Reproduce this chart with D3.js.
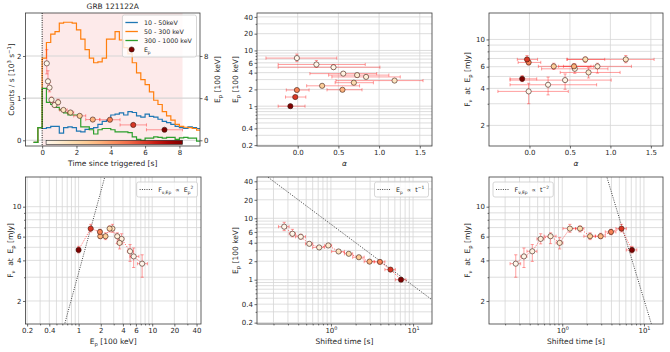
<!DOCTYPE html>
<html>
<head>
<meta charset="utf-8">
<script src="https://cdn.jsdelivr.net/npm/d3@7"></script>
<style>
  body { margin: 0; background: #fff; }
  svg { font-family: "DejaVu Sans", sans-serif; }
</style>
</head>
<body>
<svg id="fig" width="670" height="352"></svg>
<script>
// spectral slices, time since trigger [s]
var binStart = [0.23, 0.31, 0.37, 0.49, 0.60, 0.84, 1.02, 1.46, 1.84, 2.54, 3.36, 4.54, 6.08];
var binStop  = [0.31, 0.37, 0.49, 0.60, 0.84, 1.02, 1.46, 1.84, 2.54, 3.36, 4.54, 6.08, 8.18];
var binMid   = [0.27, 0.34, 0.43, 0.545, 0.72, 0.93, 1.24, 1.65, 2.19, 2.95, 3.95, 5.31, 7.13];
// peak energy [100 keV]
var ep   = [7.3, 5.6, 5.0, 3.84, 3.35, 3.61, 2.88, 2.64, 2.32, 1.97, 1.95, 1.46, 1.0];
var epLo = [6.3, 5.0, 4.6, 3.6, 3.15, 3.35, 2.75, 2.52, 2.2, 1.88, 1.86, 1.38, 0.95];
var epHi = [8.6, 6.6, 5.5, 4.1, 3.6, 3.9, 3.02, 2.77, 2.45, 2.06, 2.04, 1.55, 1.05];
// low energy index
var alpha   = [-0.01, 0.23, 0.44, 0.56, 0.84, 0.73, 1.19, 0.69, 0.30, 0.55, -0.01, -0.03, -0.09];
var alphaLo = [-0.39, -0.24, -0.24, 0.15, 0.42, 0.38, 0.47, 0.46, 0.11, 0.36, -0.14, -0.15, -0.24];
var alphaHi = [0.48, 0.83, 1.01, 0.97, 1.26, 1.12, 1.54, 0.93, 0.76, 0.79, 0.14, 0.10, 0.09];
// F_nu at Ep [mJy]
var fnu   = [3.78, 4.28, 4.67, 5.77, 6.04, 5.39, 6.88, 6.88, 6.04, 6.04, 6.5, 6.88, 4.78];
var fnuLo = [3.0, 3.54, 3.93, 5.3, 5.32, 4.86, 6.46, 6.5, 5.7, 5.8, 6.2, 6.5, 4.54];
var fnuHi = [4.4, 4.94, 5.24, 6.3, 6.4, 5.9, 7.4, 7.2, 6.4, 6.35, 6.8, 7.4, 5.08];

// light curves [10^3 counts/s], bins of 0.25 s
var lcTime = [-0.5, -0.25, 0, 0.25, 0.5, 0.75, 1, 1.25, 1.5, 1.75, 2, 2.25, 2.5, 2.75, 3, 3.25, 3.5, 3.75, 4, 4.25,
              4.5, 4.75, 5, 5.25, 5.5, 5.75, 6, 6.25, 6.5, 6.75, 7, 7.25, 7.5, 7.75, 8, 8.25, 8.5, 8.75, 9, 9.25];
var lcLow  = [-0.05, 0.3, 0.28, 0.3, 0.33, 0.33, 0.17, 0.3, 0.32, 0.3, 0.22, 0.2, 0.26, 0.28, 0.3, 0.38, 0.45, 0.48, 0.6, 0.62,
              0.65, 0.6, 0.68, 0.66, 0.58, 0.55, 0.62, 0.57, 0.55, 0.5, 0.45, 0.42, 0.38, 0.33, 0.3, 0.28, 0.32, 0.3, 0.28, 0.27];
var lcMid  = [-0.05, 0.3, 1.95, 2.32, 2.52, 2.58, 2.78, 2.8, 2.8, 2.78, 2.62, 2.4, 2.15, 1.95, 1.84, 1.86, 1.95, 2.4, 2.4, 2.58,
              2.38, 2.2, 2.05, 1.84, 1.6, 1.44, 1.32, 1.15, 0.95, 0.85, 0.68, 0.58, 0.48, 0.38, 0.33, 0.31, 0.3, 0.28, 0.24, 0.2];
var lcHigh = [-0.05, 0.3, 1.23, 0.9, 0.85, 0.78, 0.72, 0.65, 0.6, 0.6, 0.6, 0.32, 0.32, 0.25, 0.15, 0.25, 0.28, 0.28, 0.25, 0.2,
              0.2, 0.2, 0.18, 0.08, 0.02, 0.0, 0.05, 0.05, 0.08, 0.07, 0.05, 0.07, 0.07, 0.02, 0.06, 0.07, 0.05, 0.05, -0.02, -0.02];
var lcBin = 0.25;
var lcNames = ["10 - 50keV", "50 - 300 keV", "300 - 1000 keV"];
var lcColors = ["#1f77b4", "#ff7f0e", "#2ca02c"];

// tick labels
var ticksTime = [0, 2, 4, 6, 8];
var ticksCounts = [0, 1, 2];
var ticksEpLin = [0, 4, 8];
var ticksAlpha = [0, 0.5, 1, 1.5];
var ticksEp = [0.2, 0.4, 1, 2, 4, 6, 10, 20, 40];
var ticksF = [2, 4, 6, 10];
var ticksShift = [1, 10];

// power-law guides
var guideEpPivot = 1.46, guideEpNorm = 6.88;   // F ~ Ep^2
var guideT1Norm = 8.0;                         // Ep ~ t^-1
var guideT2Norm = 205;                         // F ~ t^-2

var svg = d3.select("#fig");
var defs = svg.append("defs");
var ink = "#262626", gridCol = "#d5d5d5", errCol = "#ff2a2a";
var fsTick = 7, fsLab = 7.5, fsLeg = 6.3;
var n = binMid.length, idx = d3.range(n);
var tNorm = d3.scaleLinear().domain([binMid[0], binMid[n - 1]]).range([0, 1]);
function col(i) { return d3.interpolateOrRd(tNorm(binMid[i])); }

function panel(name, x, y, w, h) {
  var g = svg.append("g").attr("transform", "translate(" + x + "," + y + ")");
  defs.append("clipPath").attr("id", "clip-" + name)
    .append("rect").attr("width", w).attr("height", h);
  var body = g.append("g").attr("clip-path", "url(#clip-" + name + ")");
  return {g: g, body: body, w: w, h: h};
}

// text with sub/superscripts, parts = ["txt", ["p","sub"], ...]
function rich(t, parts, fs) {
  var cur = 0;
  parts.forEach(function(q) {
    var s = typeof q === "string" ? q : q[0];
    var m = typeof q === "string" ? "" : q[1];
    var off = m === "sub" ? 0.3 * fs : m === "sup" ? -0.4 * fs : 0;
    var ts = t.append("tspan").text(s);
    if (m) ts.style("font-size", (fs * 0.7) + "px");
    if (off !== cur) ts.attr("dy", off - cur);
    cur = off;
  });
}

function styleAxis(a) {
  a.attr("font-size", null).attr("font-family", null);
  a.selectAll(".domain").remove();
  a.selectAll(".tick line").attr("stroke", ink).attr("stroke-width", 0.7);
  a.selectAll(".tick text").attr("fill", ink).style("font-size", fsTick + "px");
}

function axis(p, side, s, major, fmt, minor) {
  var mk = function() { return side === "bottom" ? d3.axisBottom(s) : side === "left" ? d3.axisLeft(s) : d3.axisRight(s); };
  var a = p.g.append("g");
  if (side === "bottom") a.attr("transform", "translate(0," + p.h + ")");
  if (side === "right") a.attr("transform", "translate(" + p.w + ",0)");
  a.call(mk().tickValues(major).tickFormat(fmt).tickSizeInner(2.5).tickSizeOuter(0).tickPadding(1.5));
  styleAxis(a);
  if (minor) {
    var mv = minor.filter(function(v) { return !major.some(function(M) { return Math.abs(M - v) < 1e-6 * v; }); });
    var m = a.append("g").call(mk().tickValues(mv).tickFormat("").tickSizeInner(1.4).tickSizeOuter(0));
    styleAxis(m);
  }
  return a;
}

// labels like 10^0, 10^1 on the major ticks only
function powerTicks(a) {
  a.selectAll(".tick text").each(function(d) {
    if (!ticksShift.some(function(M) { return Math.abs(M - d) < 1e-6 * d; })) return;
    if (d3.select(this).text() === "") return;
    var t = d3.select(this).text(null);
    rich(t, ["10", [String(Math.round(Math.log10(d))), "sup"]], fsTick);
  });
}

function grid(p, xs, xv, ys, yv, sw) {
  var gg = p.body.append("g").attr("stroke", gridCol).attr("stroke-width", sw || 0.8);
  gg.selectAll(null).data(xv).enter().append("line")
    .attr("x1", function(d) { return xs(d); }).attr("x2", function(d) { return xs(d); })
    .attr("y1", 0).attr("y2", p.h);
  gg.selectAll(null).data(yv).enter().append("line")
    .attr("y1", function(d) { return ys(d); }).attr("y2", function(d) { return ys(d); })
    .attr("x1", 0).attr("x2", p.w);
}

function frame(p) {
  p.g.append("rect").attr("width", p.w).attr("height", p.h)
    .attr("fill", "none").attr("stroke", "#3a3a3a").attr("stroke-width", 0.8);
}

function xLabel(p, parts) {
  var t = p.g.append("text").attr("x", p.w / 2).attr("y", p.h + 20)
    .attr("text-anchor", "middle").attr("xml:space", "preserve")
    .style("font-size", fsLab + "px").attr("fill", ink);
  rich(t, parts, fsLab);
  return t;
}

function yLabel(p, parts, dx) {
  var t = p.g.append("text")
    .attr("transform", "translate(" + dx + "," + (p.h / 2) + ") rotate(-90)")
    .attr("text-anchor", "middle").attr("dy", "0.35em").attr("xml:space", "preserve")
    .style("font-size", fsLab + "px").attr("fill", ink);
  rich(t, parts, fsLab);
}

function points(p, xs, ys, xv, xl, xh, yv, yl, yh, connect) {
  var cap = 1.6;
  var eb = p.body.append("g").attr("stroke", errCol).attr("stroke-opacity", 0.5).attr("stroke-width", 0.9);
  idx.forEach(function(i) {
    var x = xs(xv[i]), y = ys(yv[i]);
    var x1 = xs(xl[i]), x2 = xs(xh[i]), y1 = ys(yl[i]), y2 = ys(yh[i]);
    eb.append("line").attr("x1", x1).attr("x2", x2).attr("y1", y).attr("y2", y);
    eb.append("line").attr("x1", x1).attr("x2", x1).attr("y1", y - cap).attr("y2", y + cap);
    eb.append("line").attr("x1", x2).attr("x2", x2).attr("y1", y - cap).attr("y2", y + cap);
    eb.append("line").attr("x1", x).attr("x2", x).attr("y1", y1).attr("y2", y2);
    eb.append("line").attr("x1", x - cap).attr("x2", x + cap).attr("y1", y1).attr("y2", y1);
    eb.append("line").attr("x1", x - cap).attr("x2", x + cap).attr("y1", y2).attr("y2", y2);
  });
  if (connect) {
    p.body.append("path").datum(idx)
      .attr("d", d3.line().x(function(i) { return xs(xv[i]); }).y(function(i) { return ys(yv[i]); }))
      .attr("fill", "none").attr("stroke", errCol).attr("stroke-opacity", 0.75)
      .attr("stroke-width", 0.9).attr("stroke-dasharray", "1.2,1.3");
  }
  p.body.append("g").selectAll("circle").data(idx).enter().append("circle")
    .attr("cx", function(i) { return xs(xv[i]); })
    .attr("cy", function(i) { return ys(yv[i]); })
    .attr("r", 2.6).attr("fill", col)
    .attr("stroke", "#3b1d12").attr("stroke-width", 0.6);
}

function guide(p, xs, ys, f) {
  var d = xs.domain();
  p.body.append("path")
    .attr("d", d3.line()([[xs(d[0]), ys(f(d[0]))], [xs(d[1]), ys(f(d[1]))]]))
    .attr("fill", "none").attr("stroke", "#333").attr("stroke-width", 0.9)
    .attr("stroke-dasharray", "1,1.3");
}

function legend(p, items, side, top) {
  var lg = p.g.append("g");
  var rowH = 9, pad = 3, sample = 12.5, gap = 6;
  var body = lg.append("g");
  items.forEach(function(it, k) {
    var yy = pad + rowH / 2 + k * rowH;
    if (it.kind === "dot") {
      body.append("circle").attr("cx", pad + sample / 2).attr("cy", yy).attr("r", 2.6)
        .attr("fill", it.color).attr("stroke", "#3b1d12").attr("stroke-width", 0.6);
    } else {
      body.append("line").attr("x1", pad).attr("x2", pad + sample).attr("y1", yy).attr("y2", yy)
        .attr("stroke", it.color).attr("stroke-width", it.dash ? 0.9 : 1.3)
        .attr("stroke-dasharray", it.dash || null);
    }
    var t = body.append("text").attr("x", pad + sample + gap).attr("y", yy).attr("dy", "0.35em")
      .attr("xml:space", "preserve").style("font-size", fsLeg + "px").attr("fill", ink);
    rich(t, it.parts, fsLeg);
  });
  var bb = body.node().getBBox();
  var W = bb.x + bb.width + pad + 1, H = 2 * pad + items.length * rowH;
  lg.insert("rect", ":first-child").attr("width", W).attr("height", H).attr("rx", 2)
    .attr("fill", "#fff").attr("fill-opacity", 0.8).attr("stroke", "#cccccc").attr("stroke-width", 0.8);
  var x0 = side === "right" ? p.w - 3.5 - W : 4;
  lg.attr("transform", "translate(" + x0 + "," + top + ")");
}

var labEp = ["E", ["p", "sub"], " [100 keV]"];
var labF = ["F", ["\u03bd", "sub"], "  at  E", ["p", "sub"], " [mJy]"];
var labShift = ["Shifted time [s]"];

// ---------- light curve ----------
var lc = panel("lc", 25.5, 13, 174.5, 133);
var lcX = d3.scaleLinear().domain([-0.97, 9.2]).range([0, lc.w]);
var lcY = d3.scaleLinear().domain([-0.135, 3.02]).range([lc.h, 0]);
var lcY2 = d3.scaleLinear().domain([-0.54, 12.08]).range([lc.h, 0]);

lc.body.append("rect").attr("x", lcX(0)).attr("width", lcX(binStop[n - 1]) - lcX(0))
  .attr("y", 0).attr("height", lc.h).attr("fill", "#fdeaea");
grid(lc, lcX, [], lcY, ticksCounts, 1.1);

var lcLine = d3.line().curve(d3.curveStepAfter)
  .x(function(d) { return lcX(d[0]); }).y(function(d) { return lcY(d[1]); });
[lcLow, lcMid, lcHigh].forEach(function(series, k) {
  var pts = lcTime.map(function(t, i) { return [t, series[i]]; });
  pts.push([lcTime[lcTime.length - 1] + lcBin, series[series.length - 1]]);
  lc.body.append("path").datum(pts).attr("d", lcLine)
    .attr("fill", "none").attr("stroke", lcColors[k]).attr("stroke-width", 1.2);
});
lc.body.append("line").attr("x1", lcX(0)).attr("x2", lcX(0)).attr("y1", 0).attr("y2", lc.h)
  .attr("stroke", "#111").attr("stroke-width", 1).attr("stroke-dasharray", "1,1.3");

var grad = defs.append("linearGradient").attr("id", "orrd");
d3.range(0, 1.0001, 0.1).forEach(function(s) {
  grad.append("stop").attr("offset", s).attr("stop-color", d3.interpolateOrRd(s));
});
lc.body.append("rect").attr("x", lcX(binStart[0])).attr("width", lcX(binStop[n - 1]) - lcX(binStart[0]))
  .attr("y", lcY(0)).attr("height", 4).attr("fill", "url(#orrd)")
  .attr("stroke", "#222").attr("stroke-width", 0.6);

points(lc, lcX, lcY2, binMid, binStart, binStop, ep, epLo, epHi, false);

axis(lc, "bottom", lcX, ticksTime, d3.format("d"));
axis(lc, "left", lcY, ticksCounts, d3.format("d"));
axis(lc, "right", lcY2, ticksEpLin, d3.format("d"));
frame(lc);
xLabel(lc, ["Time since triggered [s]"]);
yLabel(lc, ["Counts / s [10", ["3", "sup"], " s", ["\u22121", "sup"], "]"], -14.5);
yLabel(lc, labEp, lc.w + 17);
lc.g.append("text").attr("x", lc.w / 2).attr("y", -4.5).attr("text-anchor", "middle")
  .style("font-size", fsLab + "px").attr("fill", ink).text("GRB 121122A");
legend(lc, [
  {kind: "line", color: lcColors[0], parts: [lcNames[0]]},
  {kind: "line", color: lcColors[1], parts: [lcNames[1]]},
  {kind: "line", color: lcColors[2], parts: [lcNames[2]]},
  {kind: "dot", color: col(n - 1), parts: ["E", ["p", "sub"]]}
], "right", 2);

// ---------- Ep vs alpha ----------
var pA = panel("aep", 257, 13, 175, 133);
var aX = d3.scaleLinear().domain([-0.5, 1.65]).range([0, pA.w]);
var aY = d3.scaleLog().domain([0.193, 47]).range([pA.h, 0]);
grid(pA, aX, ticksAlpha, aY, aY.ticks());
points(pA, aX, aY, alpha, alphaLo, alphaHi, ep, epLo, epHi, false);
axis(pA, "bottom", aX, ticksAlpha, d3.format(".1f"));
axis(pA, "left", aY, ticksEp, d3.format("~g"), aY.ticks());
frame(pA);
xLabel(pA, ["\u03b1"]).style("font-style", "italic");
yLabel(pA, labEp, -22);

// ---------- F vs alpha ----------
var pB = panel("af", 489, 13, 174, 133);
var bX = d3.scaleLinear().domain([-0.5, 1.65]).range([0, pB.w]);
var bY = d3.scaleLog().domain([1.36, 16.4]).range([pB.h, 0]);
grid(pB, bX, ticksAlpha, bY, bY.ticks());
points(pB, bX, bY, alpha, alphaLo, alphaHi, fnu, fnuLo, fnuHi, false);
axis(pB, "bottom", bX, ticksAlpha, d3.format(".1f"));
axis(pB, "left", bY, ticksF, d3.format("~g"), bY.ticks());
frame(pB);
xLabel(pB, ["\u03b1"]).style("font-style", "italic");
yLabel(pB, labF, -22);

// ---------- F vs Ep ----------
var pC = panel("epf", 25.5, 177, 175.5, 147);
var cX = d3.scaleLog().domain([0.19, 46]).range([0, pC.w]);
var cY = d3.scaleLog().domain([1.35, 16.6]).range([pC.h, 0]);
grid(pC, cX, cX.ticks(), cY, cY.ticks());
guide(pC, cX, cY, function(e) { return guideEpNorm * Math.pow(e / guideEpPivot, 2); });
points(pC, cX, cY, ep, epLo, epHi, fnu, fnuLo, fnuHi, true);
axis(pC, "bottom", cX, ticksEp, d3.format("~g"), cX.ticks());
axis(pC, "left", cY, ticksF, d3.format("~g"), cY.ticks());
frame(pC);
xLabel(pC, labEp);
yLabel(pC, labF, -15.5);
legend(pC, [{kind: "line", color: "#333", dash: "1,1.3",
  parts: ["F", ["\u03bd,Ep", "sub"], "  \u221d  E", ["p", "sub"], ["2", "sup"]]}], "right", 5);

// ---------- Ep vs shifted time ----------
var pD = panel("tep", 257, 177, 175, 147);
var dX = d3.scaleLog().domain([0.126, 17]).range([0, pD.w]);
var dY = d3.scaleLog().domain([0.19, 47]).range([pD.h, 0]);
grid(pD, dX, dX.ticks(), dY, dY.ticks());
guide(pD, dX, dY, function(t) { return guideT1Norm / t; });
points(pD, dX, dY, binMid, binStart, binStop, ep, epLo, epHi, true);
powerTicks(axis(pD, "bottom", dX, ticksShift, d3.format("d"), dX.ticks()));
axis(pD, "left", dY, ticksEp, d3.format("~g"), dY.ticks());
frame(pD);
xLabel(pD, labShift);
yLabel(pD, labEp, -22);
legend(pD, [{kind: "line", color: "#333", dash: "1,1.3",
  parts: ["E", ["p", "sub"], "  \u221d  t", ["\u22121", "sup"]]}], "right", 5);

// ---------- F vs shifted time ----------
var pE = panel("tf", 489, 177, 174, 147);
var eX = d3.scaleLog().domain([0.127, 17.1]).range([0, pE.w]);
var eY = d3.scaleLog().domain([1.35, 16.6]).range([pE.h, 0]);
grid(pE, eX, eX.ticks(), eY, eY.ticks());
guide(pE, eX, eY, function(t) { return guideT2Norm / (t * t); });
points(pE, eX, eY, binMid, binStart, binStop, fnu, fnuLo, fnuHi, true);
powerTicks(axis(pE, "bottom", eX, ticksShift, d3.format("d"), eX.ticks()));
axis(pE, "left", eY, ticksF, d3.format("~g"), eY.ticks());
frame(pE);
xLabel(pE, labShift);
yLabel(pE, labF, -22);
legend(pE, [{kind: "line", color: "#333", dash: "1,1.3",
  parts: ["F", ["\u03bd,Ep", "sub"], "  \u221d  t", ["\u22122", "sup"]]}], "left", 5);
</script>
</body>
</html>
